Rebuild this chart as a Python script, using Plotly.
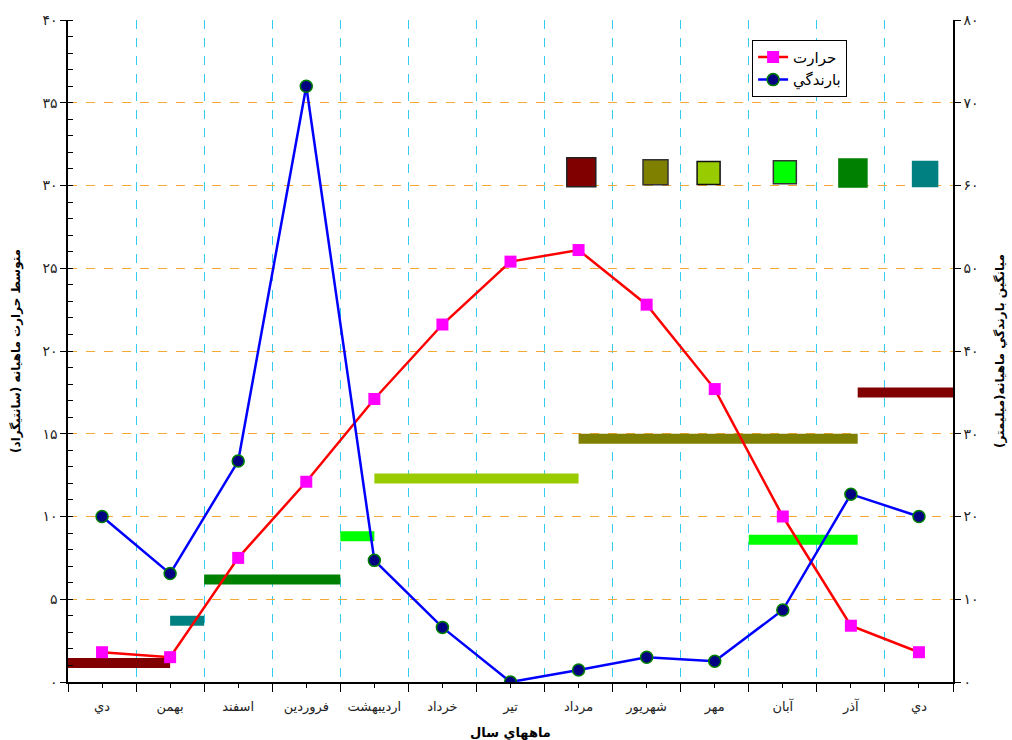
import plotly.graph_objects as go

months = ["دي", "بهمن", "اسفند", "فروردين", "ارديبهشت", "خرداد", "تير",
          "مرداد", "شهريور", "مهر", "آبان", "آذر", "دي"]
temperature = [1.8, 1.5, 7.5, 12.1, 17.1, 21.6, 25.4, 26.1, 22.8, 17.7, 10.0, 3.4, 1.8]
rainfall = [20.0, 13.1, 26.7, 72.0, 14.7, 6.6, 0.0, 1.45, 3.0, 2.5, 8.7, 22.7, 20.0]

# climate-class bands (left-axis level, start/end in month index units)
band_start = [-0.5, 1.0, 1.5, 3.5, 4.0, 7.0, 9.5, 11.1]
band_end = [1.0, 1.5, 3.5, 4.0, 7.0, 11.1, 11.1, 12.5]
band_level = [1.15, 3.7, 6.2, 8.8, 12.3, 14.7, 8.6, 17.5]
band_color = ["#800000", "#008080", "#008000", "#00FF00", "#99CC00", "#808000", "#00FF00", "#800000"]

# colour key squares at the top (no text)
key_x = [7.04, 8.13, 8.91, 10.03, 11.03, 12.09]
key_y = [30.8, 30.8, 30.75, 30.8, 30.75, 30.7]
key_size = [29, 25, 23, 23, 28, 25]
key_color = ["#800000", "#808000", "#99CC00", "#00FF00", "#008000", "#008080"]
key_border = ["#222222", "#333333", "#111111", "#333333", "#008000", "#008080"]

left_ticks = [0, 5, 10, 15, 20, 25, 30, 35, 40]
left_labels = ["۰", "۵", "۱۰", "۱۵", "۲۰", "۲۵", "۳۰", "۳۵", "۴۰"]
right_ticks = [0, 10, 20, 30, 40, 50, 60, 70, 80]
right_labels = ["۰", "۱۰", "۲۰", "۳۰", "۴۰", "۵۰", "۶۰", "۷۰", "۸۰"]

x_idx = list(range(len(months)))
boundaries = [i + 0.5 for i in range(-1, len(months))]

fig = go.Figure()

for s, e, lv, c in zip(band_start, band_end, band_level, band_color):
    fig.add_trace(go.Scatter(x=[s, e], y=[lv, lv], mode="lines",
                             line=dict(color=c, width=10), showlegend=False,
                             hoverinfo="skip"))

fig.add_trace(go.Scatter(x=key_x, y=key_y, mode="markers",
                         marker=dict(symbol="square", size=key_size, color=key_color,
                                     opacity=1,
                                     line=dict(color=key_border, width=1.5)),
                         showlegend=False, hoverinfo="skip"))

fig.add_trace(go.Scatter(x=x_idx, y=temperature, mode="lines+markers", name="حرارت",
                         line=dict(color="#FF0000", width=2.5),
                         marker=dict(symbol="square", size=12, color="#FF00FF",
                                     line=dict(width=0))))

fig.add_trace(go.Scatter(x=x_idx, y=rainfall, mode="lines+markers", name="بارندگي",
                         yaxis="y2",
                         line=dict(color="#0000FF", width=2.5),
                         marker=dict(symbol="circle", size=12, color="#000080",
                                     line=dict(color="#008000", width=1.5))))

font_fa = "DejaVu Sans"

fig.update_layout(
    width=1012, height=740,
    margin=dict(l=68, r=59, t=20, b=58),
    paper_bgcolor="white", plot_bgcolor="white",
    font=dict(family=font_fa, size=12, color="#000000"),
    showlegend=True,
    legend=dict(x=0.773, y=0.97, xanchor="left", yanchor="top",
                bgcolor="white", bordercolor="#000000", borderwidth=1,
                font=dict(family=font_fa, size=15, color="#000000"),
                itemwidth=30, tracegroupgap=2),
    xaxis=dict(
        range=[-0.5, 12.5], tickmode="array", tickvals=x_idx, ticktext=months,
        showgrid=False, zeroline=False, automargin=False,
        showline=True, linecolor="#000000", linewidth=1.5,
        ticks="outside", ticklen=4, tickcolor="#000000",
        ticklabelstandoff=8,
        tickfont=dict(family=font_fa, size=13, color="#222222"),
        minor=dict(tickvals=boundaries, ticks="outside", ticklen=8, tickcolor="#000000",
                   showgrid=True, gridcolor="#33CCEE", griddash="dash", gridwidth=1),
        title=dict(text="<b>ماههاي سال</b>", font=dict(family=font_fa, size=13), standoff=14),
    ),
    yaxis=dict(
        range=[0, 40], tickmode="array", tickvals=left_ticks, ticktext=left_labels,
        showgrid=True, gridcolor="#F5A833", griddash="dash", gridwidth=1,
        zeroline=False, showline=True, linecolor="#000000", linewidth=1.5,
        automargin=False,
        ticks="outside", ticklen=6, tickcolor="#000000",
        tickfont=dict(family=font_fa, size=14, color="#222222"),
        minor=dict(dtick=1, ticks="inside", ticklen=5, tickcolor="#000000", showgrid=False),
        title=dict(text="<b>متوسط حرارت ماهيانه (سانتيگراد)</b>",
                   font=dict(family=font_fa, size=12), standoff=19),
    ),
    yaxis2=dict(
        range=[0, 80], overlaying="y", side="right", tickmode="array",
        tickvals=right_ticks, ticktext=right_labels, automargin=False,
        showgrid=False, zeroline=False, showline=True, linecolor="#000000", linewidth=1.5,
        ticks="outside", ticklen=6, tickcolor="#000000",
        tickfont=dict(family=font_fa, size=14, color="#222222"),
        title=dict(text="<b>ميانگين بارندگي ماهيانه(ميليمتر)</b>",
                   font=dict(family=font_fa, size=12), standoff=18),
    ),
)

fig.write_html("out.html", config={"displayModeBar": False},
               post_script="document.body.style.margin='0';document.body.style.overflow='hidden';")
